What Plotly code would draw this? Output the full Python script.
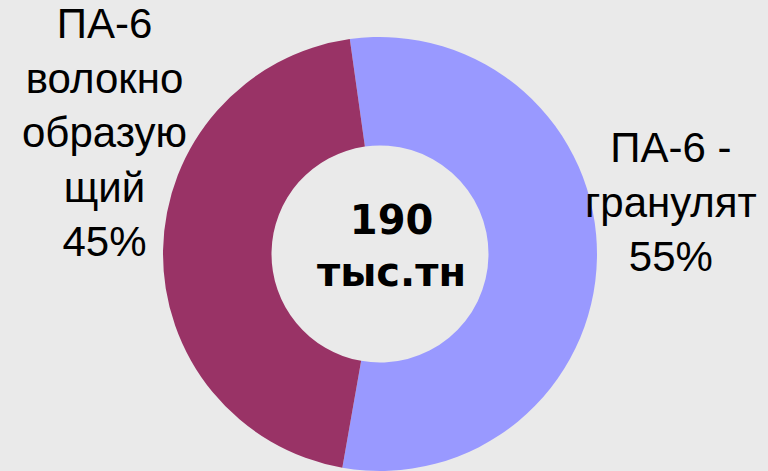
import plotly.graph_objects as go

labels = ["ПА-6 - гранулят", "ПА-6 волокнообразующий"]
values = [55, 45]
colors = ["#9999FF", "#993366"]
label_texts = ["ПА-6 -<br>гранулят<br>55%", "ПА-6<br>волокно<br>образую<br>щий<br>45%"]
center_text = "190<br>тыс.тн"

W, H = 768, 471
cx, cy, r = 380, 254, 217


def px(x):
    return x / W


def py(y):
    return 1 - y / H


fig = go.Figure(go.Pie(
    labels=labels,
    values=values,
    hole=0.5,
    sort=False,
    direction="clockwise",
    rotation=-8,
    marker=dict(colors=colors, line=dict(width=0)),
    textinfo="none",
    hoverinfo="label+percent",
    domain=dict(x=[px(cx - r), px(cx + r)], y=[py(cy + r), py(cy - r)]),
    showlegend=False,
))

fig.add_annotation(x=px(671), y=py(202), xref="paper", yref="paper",
                   text=label_texts[0], showarrow=False, align="center",
                   xanchor="center", yanchor="middle",
                   font=dict(family="Liberation Sans, Arial", size=42, color="#000000"))
fig.add_annotation(x=px(104), y=py(133), xref="paper", yref="paper",
                   text=label_texts[1], showarrow=False, align="center",
                   xanchor="center", yanchor="middle",
                   font=dict(family="Liberation Sans, Arial", size=42, color="#000000"))
fig.add_annotation(x=px(391), y=py(246), xref="paper", yref="paper",
                   text="<b>" + center_text + "</b>", showarrow=False, align="center",
                   xanchor="center", yanchor="middle",
                   font=dict(family="DejaVu Sans", size=40, color="#000000"))

fig.update_layout(
    width=W, height=H,
    margin=dict(l=0, r=0, t=0, b=0),
    paper_bgcolor="#EAEAEA",
    plot_bgcolor="#EAEAEA",
)

fig.write_html(
    "out.html",
    config={"displayModeBar": False},
    post_script="document.body.style.margin='0';document.body.style.overflow='hidden';"
                "document.body.style.background='#EAEAEA';",
)
